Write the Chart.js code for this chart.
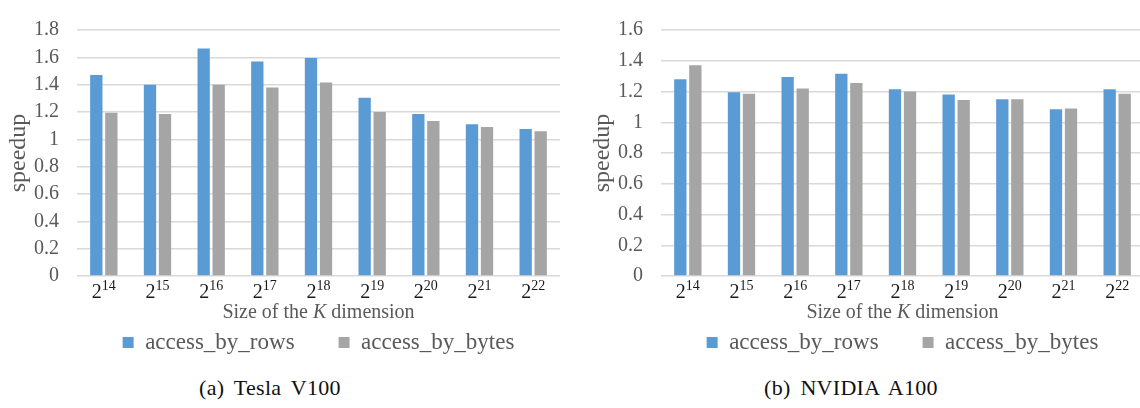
<!DOCTYPE html>
<html lang="en">
<head>
  <meta charset="UTF-8" />
  <title>Speedup by K dimension</title>
  <script src="https://cdn.jsdelivr.net/npm/chart.js"></script>
  <style>
    body {
      margin: 0;
      width: 1140px;
      height: 408px;
      overflow: hidden;
      background: #fff;
      position: relative;
    }
    .panel {
      position: absolute;
      top: 0;
      width: 570px;
      height: 408px;
    }
    .caption {
      position: absolute;
      top: 375px;
      width: 540px;
      text-align: center;
      font-family: 'Liberation Serif', serif;
      font-size: 22px;
      color: #111;
      letter-spacing: 0.3px;
      word-spacing: 4px;
    }
  </style>
</head>
<body>
  <div class="panel" style="left:0">
    <canvas id="v100Chart" width="570" height="364"></canvas>
    <div class="caption" style="left:0">(a) Tesla V100</div>
  </div>
  <div class="panel" style="left:584px">
    <canvas id="a100Chart" width="570" height="364"></canvas>
    <div class="caption" style="left:-3px">(b) NVIDIA A100</div>
  </div>

  <script>
// exponents of 2 for the K dimension
const kExponents = ['14', '15', '16', '17', '18', '19', '20', '21', '22'];

// Tesla V100
const v100Rows  = [1.47, 1.40, 1.665, 1.57, 1.595, 1.305, 1.185, 1.11, 1.075];
const v100Bytes = [1.195, 1.185, 1.40, 1.38, 1.415, 1.20, 1.135, 1.09, 1.06];

// NVIDIA A100
const a100Rows  = [1.28, 1.195, 1.295, 1.315, 1.215, 1.18, 1.15, 1.085, 1.215];
const a100Bytes = [1.37, 1.185, 1.22, 1.255, 1.20, 1.145, 1.15, 1.09, 1.185];

const serif = "'Liberation Serif', serif";
Chart.defaults.font.family = serif;

// draws 2^n tick labels and the axis title with italic K
const xAxisText = {
  id: 'xAxisText',
  afterDraw(chart) {
    const { ctx, chartArea, scales } = chart;
    const x = scales.x;
    ctx.save();
    ctx.textBaseline = 'alphabetic';
    ctx.textAlign = 'left';
    ctx.fillStyle = '#1a1a1a';
    chart.data.labels.forEach((exp, i) => {
      const cx = x.getPixelForValue(i);
      ctx.font = '20px ' + serif;
      const wb = ctx.measureText('2').width;
      ctx.font = '14px ' + serif;
      const ws = ctx.measureText(exp).width;
      const left = cx - (wb + ws) / 2;
      ctx.font = '20px ' + serif;
      ctx.fillText('2', left, chartArea.bottom + 22);
      ctx.font = '14px ' + serif;
      ctx.fillText(exp, left + wb, chartArea.bottom + 14);
    });

    ctx.fillStyle = '#595959';
    const parts = [
      ['Size of the ', '20px ' + serif],
      ['K', 'italic 20px ' + serif],
      [' dimension', '20px ' + serif]
    ];
    let total = 0;
    parts.forEach(p => { ctx.font = p[1]; total += ctx.measureText(p[0]).width; });
    let px = (chartArea.left + chartArea.right) / 2 - total / 2;
    parts.forEach(p => {
      ctx.font = p[1];
      ctx.fillText(p[0], px, chartArea.bottom + 42);
      px += ctx.measureText(p[0]).width;
    });
    ctx.restore();
  }
};

function makeChart(id, rows, bytes, yMax) {
  const ctx = document.getElementById(id).getContext('2d');
  return new Chart(ctx, {
    type: 'bar',
    data: {
      labels: kExponents,
      datasets: [{
        label: 'access_by_rows',
        data: rows,
        backgroundColor: '#5b9bd5',
        categoryPercentage: 0.56,
        barPercentage: 0.82
      }, {
        label: 'access_by_bytes',
        data: bytes,
        backgroundColor: '#a5a5a5',
        categoryPercentage: 0.56,
        barPercentage: 0.82
      }]
    },
    options: {
      responsive: false,
      animation: false,
      layout: {
        autoPadding: false,
        padding: { top: 10, left: 0, right: 10, bottom: 0 }
      },
      plugins: {
        legend: {
          position: 'bottom',
          fullSize: false,
          labels: {
            boxWidth: 11,
            boxHeight: 11,
            padding: 44,
            color: '#595959',
            font: { family: serif, size: 23 }
          }
        },
        tooltip: { enabled: false }
      },
      scales: {
        x: {
          grid: { display: false, drawTicks: false },
          border: { display: false },
          ticks: { display: false },
          afterFit: scale => { scale.height = 11; }
        },
        y: {
          min: 0,
          max: yMax,
          ticks: {
            stepSize: 0.2,
            padding: 18,
            color: '#595959',
            font: { family: serif, size: 20 },
            callback: v => Math.round(v * 10) / 10
          },
          grid: { color: '#d9d9d9', lineWidth: 1.5, drawTicks: false },
          border: { display: false },
          title: {
            display: true,
            text: 'speedup',
            color: '#595959',
            font: { family: serif, size: 24 },
            padding: { top: 4, bottom: 0 }
          },
          afterFit: scale => { scale.width = 77; }
        }
      }
    },
    plugins: [xAxisText]
  });
}

makeChart('v100Chart', v100Rows, v100Bytes, 1.8);
makeChart('a100Chart', a100Rows, a100Bytes, 1.6);
  </script>
</body>
</html>
